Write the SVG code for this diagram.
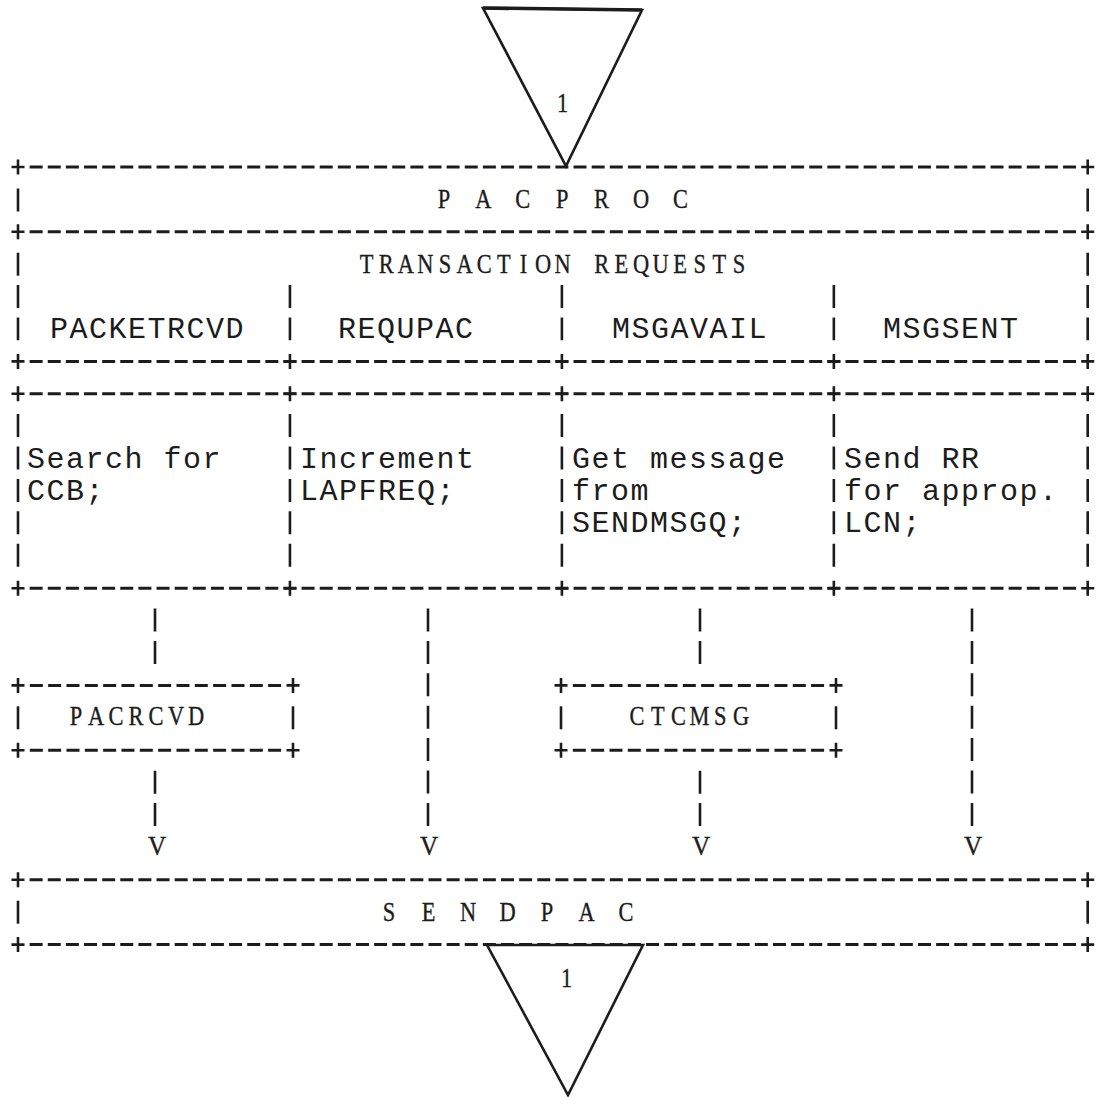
<svg xmlns="http://www.w3.org/2000/svg" width="1098" height="1097" viewBox="0 0 1098 1097">
  <defs>
    <style>
      .bg { fill: #ffffff; }
      .dash { stroke: #1c1c1c; stroke-width: 3; fill: none; stroke-dasharray: 13 5.13; }
      .dashb { stroke: #1c1c1c; stroke-width: 3; fill: none; stroke-dasharray: 13 5.33; }
      .bar { stroke: #1c1c1c; stroke-width: 2.6; fill: none; stroke-dasharray: 23 9.4; }
      .plus { stroke: #1c1c1c; stroke-width: 2.6; fill: none; }
      .tri { stroke: #1c1c1c; stroke-width: 2.6; fill: none; stroke-linejoin: miter; }
      .mono { font-family: "Liberation Mono", "Courier New", monospace; font-size: 30px; letter-spacing: 1.5px; fill: #1c1c1c; }
      .cond { font-family: "Liberation Serif", "Times New Roman", serif; font-size: 28px; fill: #1c1c1c; stroke: #1c1c1c; stroke-width: 0.35; text-anchor: middle; }
    </style>
  </defs>

  <rect class="bg" x="0" y="0" width="1098" height="1097"/>

  <!-- off-page connector entering PACPROC -->
  <g id="offpage-in">
    <polygon class="tri" points="483,8 642,10 566,166"/>
    <line x1="483" y1="8" x2="642" y2="10" stroke="#1c1c1c" stroke-width="3.6"/>
    <text class="cond" transform="scale(0.8,1)" x="703.13" y="112" font-size="29">1</text>
  </g>

  <!-- PACPROC header box -->
  <g id="pacproc">
    <line class="dash" x1="29.63" y1="167" x2="1076.07" y2="167"/>
    <path class="plus" d="M11.5 167h13M18 159.5v15M1081.2 167h13M1087.7 159.5v15"/>
    <line class="bar" x1="18" y1="188.5" x2="18" y2="211.5"/>
    <line class="bar" x1="1087.7" y1="188.5" x2="1087.7" y2="211.5"/>
    <text class="cond" transform="scale(0.8,1)" y="208" x="555 579.63 604.25 628.88 653.5 678.13 702.75 727.38 752 776.63 801.25 825.88 850.5">P A C P R O C</text>
  </g>

  <!-- transaction request table -->
  <g id="transaction-requests">
    <line class="dash" x1="29.63" y1="231.8" x2="1076.07" y2="231.8"/>
    <path class="plus" d="M11.5 231.8h13M18 224.3v15M1081.2 231.8h13M1087.7 224.3v15"/>
    <line class="bar" x1="18" y1="252.7" x2="18" y2="275.7"/>
    <line class="bar" x1="1087.7" y1="252.7" x2="1087.7" y2="275.7"/>
    <text class="cond" transform="scale(0.8,1)" y="273" x="458.25 482.75 507.25 531.75 556.25 580.75 605.25 629.75 654.25 678.75 703.25 727.75 752.25 776.75 801.25 825.75 850.25 874.75 899.25 923.75">TRANSACTION REQUESTS</text>

    <!-- column rules, header rows -->
    <g>
      <line class="bar" x1="18" y1="285.1" x2="18" y2="340.3"/>
      <line class="bar" x1="289.95" y1="285.1" x2="289.95" y2="340.3"/>
      <line class="bar" x1="561.9" y1="285.1" x2="561.9" y2="340.3"/>
      <line class="bar" x1="833.85" y1="285.1" x2="833.85" y2="340.3"/>
      <line class="bar" x1="1087.7" y1="285.1" x2="1087.7" y2="340.3"/>
    </g>
    <text class="mono" x="50" y="338">PACKETRCVD</text>
    <text class="mono" x="338" y="338">REQUPAC</text>
    <text class="mono" x="612" y="338">MSGAVAIL</text>
    <text class="mono" x="883" y="338">MSGSENT</text>

    <line class="dash" x1="29.63" y1="361.4" x2="1076.07" y2="361.4"/>
    <path class="plus" d="M11.5 361.4h13M18 353.9v15M283.45 361.4h13M289.95 353.9v15M555.4 361.4h13M561.9 353.9v15M827.35 361.4h13M833.85 353.9v15M1081.2 361.4h13M1087.7 353.9v15"/>
    <line class="dash" x1="29.63" y1="393.8" x2="1076.07" y2="393.8"/>
    <path class="plus" d="M11.5 393.8h13M18 386.3v15M283.45 393.8h13M289.95 386.3v15M555.4 393.8h13M561.9 386.3v15M827.35 393.8h13M833.85 386.3v15M1081.2 393.8h13M1087.7 386.3v15"/>

    <!-- column rules, action rows -->
    <g>
      <line class="bar" x1="18" y1="414.1" x2="18" y2="566.7"/>
      <line class="bar" x1="289.95" y1="414.1" x2="289.95" y2="566.7"/>
      <line class="bar" x1="561.9" y1="414.1" x2="561.9" y2="566.7"/>
      <line class="bar" x1="833.85" y1="414.1" x2="833.85" y2="566.7"/>
      <line class="bar" x1="1087.7" y1="414.1" x2="1087.7" y2="566.7"/>
    </g>
    <text class="mono" x="27" y="467.6">Search for</text>
    <text class="mono" x="27" y="500">CCB;</text>
    <text class="mono" x="300" y="467.6">Increment</text>
    <text class="mono" x="300" y="500">LAPFREQ;</text>
    <text class="mono" x="572" y="467.6">Get message</text>
    <text class="mono" x="572" y="500">from</text>
    <text class="mono" x="572" y="532.4">SENDMSGQ;</text>
    <text class="mono" x="844" y="467.6">Send RR</text>
    <text class="mono" x="844" y="500">for approp.</text>
    <text class="mono" x="844" y="532.4">LCN;</text>

    <line class="dash" x1="29.63" y1="588.2" x2="1076.07" y2="588.2"/>
    <path class="plus" d="M11.5 588.2h13M18 580.7v15M283.45 588.2h13M289.95 580.7v15M555.4 588.2h13M561.9 580.7v15M827.35 588.2h13M833.85 580.7v15M1081.2 588.2h13M1087.7 580.7v15"/>
  </g>

  <!-- PACRCVD -->
  <g id="pacrcvd">
    <line class="dashb" x1="29.83" y1="685.4" x2="281.17" y2="685.4"/>
    <line class="dashb" x1="29.83" y1="750.2" x2="281.17" y2="750.2"/>
    <path class="plus" d="M11.5 685.4h13M18 677.9v15M286.5 685.4h13M293 677.9v15M11.5 750.2h13M18 742.7v15M286.5 750.2h13M293 742.7v15"/>
    <line class="bar" x1="18" y1="706.3" x2="18" y2="729.3"/>
    <line class="bar" x1="293" y1="706.3" x2="293" y2="729.3"/>
    <text class="cond" transform="scale(0.8,1)" y="725" x="95 120 145 170 195 220 245">PACRCVD</text>
  </g>

  <!-- CTCMSG -->
  <g id="ctcmsg">
    <line class="dashb" x1="572.83" y1="685.4" x2="824.17" y2="685.4"/>
    <line class="dashb" x1="572.83" y1="750.2" x2="824.17" y2="750.2"/>
    <path class="plus" d="M554.5 685.4h13M561 677.9v15M829.5 685.4h13M836 677.9v15M554.5 750.2h13M561 742.7v15M829.5 750.2h13M836 742.7v15"/>
    <line class="bar" x1="561" y1="706.3" x2="561" y2="729.3"/>
    <line class="bar" x1="836" y1="706.3" x2="836" y2="729.3"/>
    <text class="cond" transform="scale(0.8,1)" y="725" x="796.25 822.25 848.25 874.25 900.25 926.25">CTCMSG</text>
  </g>

  <!-- SENDPAC -->
  <g id="sendpac">
    <line class="dash" x1="29.63" y1="879.8" x2="1076.07" y2="879.8"/>
    <line class="dash" x1="29.63" y1="944.6" x2="1076.07" y2="944.6"/>
    <path class="plus" d="M11.5 879.8h13M18 872.3v15M1081.2 879.8h13M1087.7 872.3v15M11.5 944.6h13M18 937.1v15M1081.2 944.6h13M1087.7 937.1v15"/>
    <line class="bar" x1="18" y1="900.7" x2="18" y2="923.7"/>
    <line class="bar" x1="1087.7" y1="900.7" x2="1087.7" y2="923.7"/>
    <text class="cond" transform="scale(0.8,1)" y="921" x="486.25 510.94 535.63 560.31 585 609.69 634.38 659.06 683.75 708.44 733.13 757.81 782.5">S E N D P A C</text>
  </g>

  <!-- off-page connector leaving SENDPAC -->
  <g id="offpage-out">
    <polygon class="tri" points="487,945 643,945 568,1095"/>
    <text class="cond" transform="scale(0.8,1)" x="708.13" y="987" font-size="26">1</text>
  </g>

  <!-- flow lines from each request down to SENDPAC -->
  <g id="connectors">
    <line class="bar" x1="155" y1="608.5" x2="155" y2="664.3"/>
    <line class="bar" x1="155" y1="770.7" x2="155" y2="826.5"/>
    <line class="bar" x1="428" y1="608.5" x2="428" y2="826.5"/>
    <line class="bar" x1="700" y1="608.5" x2="700" y2="664.3"/>
    <line class="bar" x1="700" y1="770.7" x2="700" y2="826.5"/>
    <line class="bar" x1="972" y1="608.5" x2="972" y2="826.5"/>
    <text class="cond" transform="scale(0.9,1)" y="855" x="174.44" font-size="27">V</text>
    <text class="cond" transform="scale(0.9,1)" y="855" x="476.67" font-size="27">V</text>
    <text class="cond" transform="scale(0.9,1)" y="855" x="778.89" font-size="27">V</text>
    <text class="cond" transform="scale(0.9,1)" y="855" x="1081.11" font-size="27">V</text>
  </g>
</svg>
